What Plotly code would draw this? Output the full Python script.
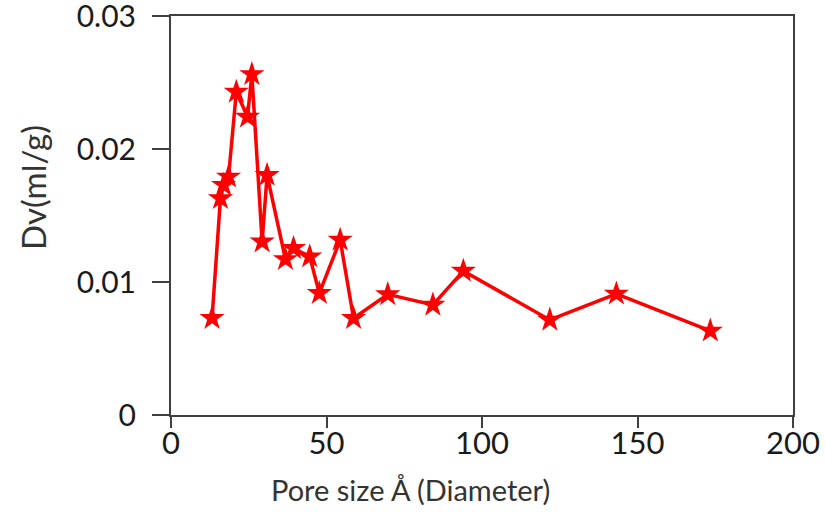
import plotly.graph_objects as go

# Pore size (Å) and Dv (ml/g)
pore_size = [13.2, 15.9, 16.9, 18.5, 21.0, 24.6, 26.0, 29.3, 30.9, 36.8, 39.4,
             44.6, 47.7, 54.4, 58.7, 69.7, 84.2, 94.0, 121.8, 143.2, 173.4]
dv = [0.00728, 0.01629, 0.01729, 0.01791, 0.02429, 0.02242, 0.02562, 0.01303,
      0.01804, 0.01171, 0.01254, 0.01191, 0.00916, 0.01316, 0.00728, 0.00907,
      0.00828, 0.01083, 0.00715, 0.00911, 0.00633]

x_ticks = [0, 50, 100, 150, 200]
y_ticks = [0, 0.01, 0.02, 0.03]
y_labels = ["0", "0.01", "0.02", "0.03"]

FONT = "Lato"
AX = "#404040"

fig = go.Figure()
fig.add_trace(go.Scatter(
    x=pore_size, y=dv, mode="lines+markers",
    line=dict(color="#FF0000", width=3.5),
    marker=dict(symbol="star", size=19, color="#FF0000", line=dict(width=0)),
    showlegend=False,
))
# empty trace to carry the overlay axis that draws the x tick marks
fig.add_trace(go.Scatter(x=[], y=[], xaxis="x2", yaxis="y", showlegend=False, hoverinfo="skip"))

fig.update_layout(
    width=825, height=512,
    margin=dict(l=171, r=32, t=16, b=97, autoexpand=False),
    paper_bgcolor="white", plot_bgcolor="white",
    font=dict(family=FONT, color="#1a1a1a"),
    xaxis=dict(range=[0, 200], tickvals=x_ticks, showgrid=False, zeroline=False,
               showline=True, linecolor=AX, linewidth=2, mirror=True,
               ticks="", ticklabelstandoff=0, automargin=False,
               tickfont=dict(size=31, family=FONT, color="#1a1a1a")),
    xaxis2=dict(range=[0, 200], tickvals=x_ticks, overlaying="x", side="bottom",
                showgrid=False, zeroline=False, showline=False, showticklabels=False,
                ticks="outside", ticklen=12, tickwidth=2, tickcolor=AX, automargin=False),
    yaxis=dict(range=[0, 0.030001], tickvals=y_ticks, ticktext=y_labels,
               showgrid=False, zeroline=False, automargin=False,
               showline=True, linecolor=AX, linewidth=2, mirror=True,
               ticks="outside", ticklen=17, tickwidth=2, tickcolor=AX,
               ticklabelstandoff=10, ticklabeloverflow="allow",
               tickfont=dict(size=30, family=FONT, color="#1a1a1a")),
    annotations=[
        dict(text="Dv(ml/g)", xref="paper", yref="paper",
             x=(33 - 171) / 622, y=(415.3 - 188) / 399.6, xanchor="center", yanchor="middle",
             textangle=-90, showarrow=False, font=dict(size=33, family=FONT, color="#333333")),
        dict(text="Pore size Å (Diameter)", xref="paper", yref="paper",
             x=(410 - 171) / 622, y=(415.3 - 490) / 399.6, xanchor="center", yanchor="middle",
             showarrow=False, font=dict(size=29, family=FONT, color="#333333")),
    ],
)

fig.write_html("out.html")
